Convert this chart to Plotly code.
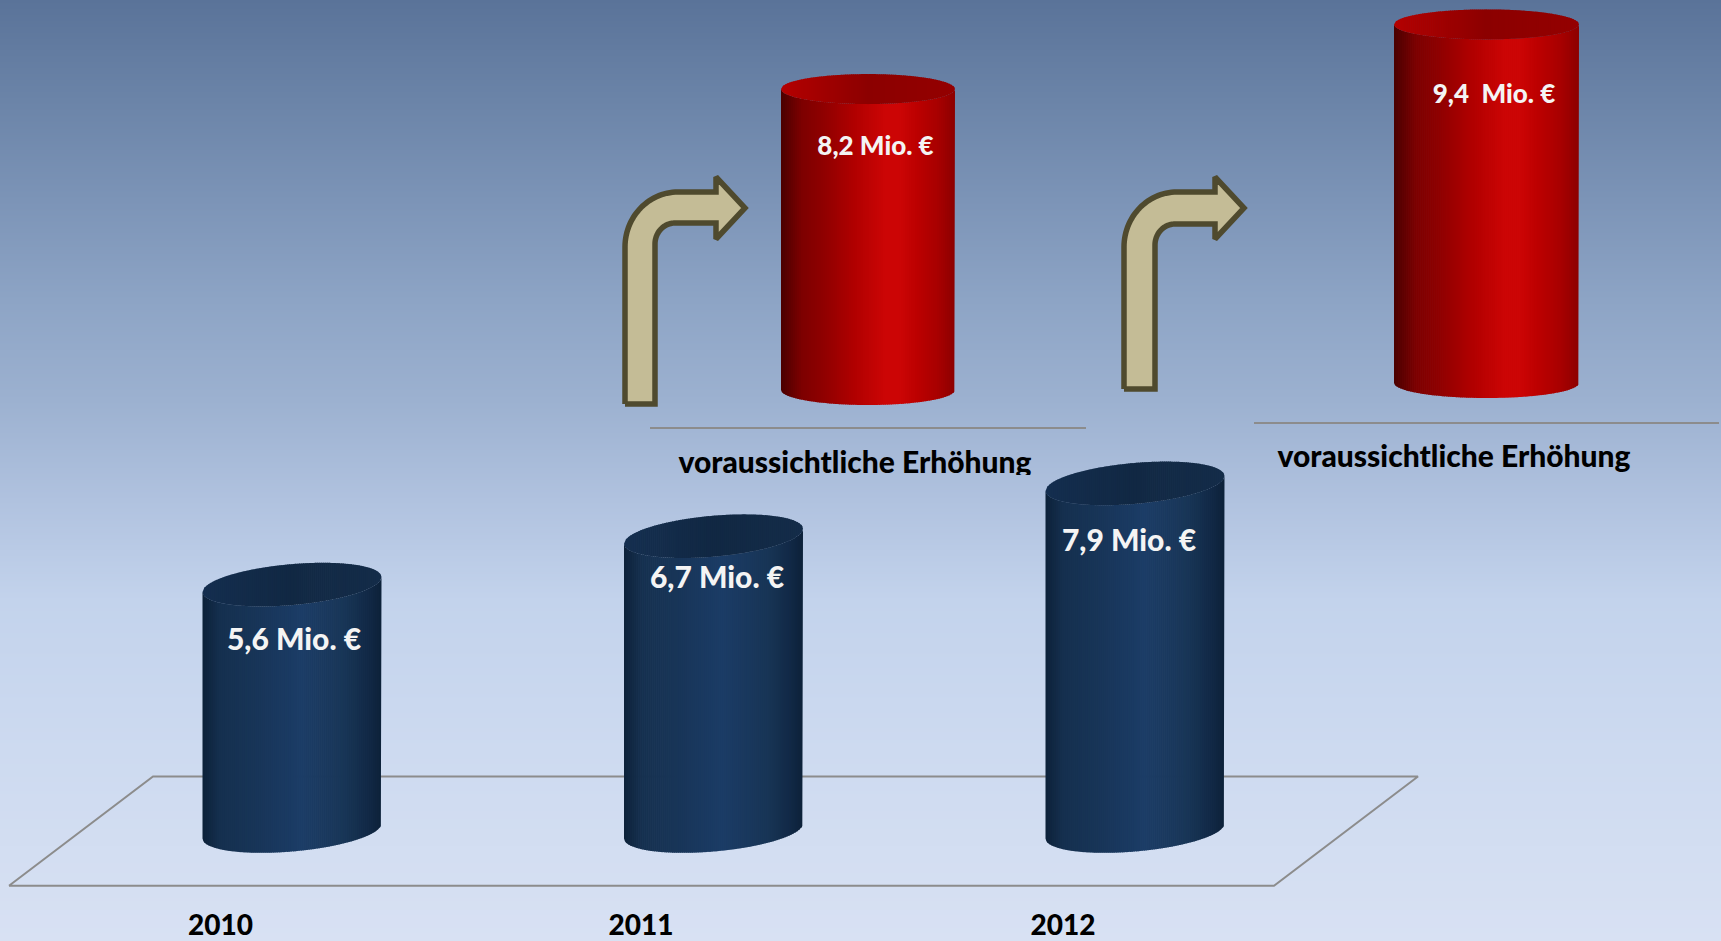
import math
import plotly.graph_objects as go

# ---------- data ----------
YEARS = ["2010", "2011", "2012"]
ACTUAL_VALUES = [5.6, 6.7, 7.9]
ACTUAL_LABELS = ["5,6 Mio. €", "6,7 Mio. €", "7,9 Mio. €"]
FORECAST_VALUES = [8.2, 9.4]
FORECAST_LABELS = ["8,2 Mio. €", "9,4  Mio. €"]
FORECAST_NOTE = "voraussichtliche Erhöhung"

W, H = 1721, 941

# ---------- style / layout (pixels) ----------
BG_STOPS = [(0, "#5a7399"), (100, "#6b84a8"), (200, "#7c94b7"), (300, "#8da4c5"),
            (400, "#9cb1d0"), (500, "#b0c2df"), (600, "#c3d3ec"), (750, "#cddaf0"),
            (941, "#d8e1f3")]
BLUE_BODY = [(0, "#0d2139"), (.1, "#15304f"), (.3, "#183558"), (.55, "#1b3c66"),
             (.8, "#183556"), (.92, "#122a47"), (1, "#0d2139")]
BLUE_TOP = [(0, "#142e4f"), (.5, "#112843"), (1, "#142c49")]
RED_BODY = [(0, "#4a0000"), (.12, "#7d0000"), (.25, "#900000"), (.42, "#b00000"),
            (.6, "#cc0505"), (.68, "#cc0505"), (.78, "#bc0000"), (.9, "#a80000"), (1, "#8c0000")]
RED_TOP = [(0, "#b40000"), (.5, "#8c0000"), (1, "#940000")]

ACTUAL_CX = [292, 713.5, 1135]
ACTUAL_HW = 89.5
ACTUAL_BASE = 831
ACTUAL_SCALE = 44.0
ACTUAL_HY = 20.5
ACTUAL_SKEW = 7.5
FORECAST_CX = [868, 1486.5]
FORECAST_HW = [87, 92.5]
FORECAST_BASE = [390, 383]
FORECAST_SCALE = [36.7, 38.15]
FORECAST_HY = 15

FONT = "Lato"


def hex2rgb(c):
    return tuple(int(c[i:i + 2], 16) for i in (1, 3, 5))


def ramp(stops, t):
    for (a, ca), (b, cb) in zip(stops, stops[1:]):
        if t <= b:
            f = (t - a) / (b - a) if b > a else 0
            ra, rb = hex2rgb(ca), hex2rgb(cb)
            return [ra[i] + (rb[i] - ra[i]) * f for i in range(3)]
    return list(hex2rgb(stops[-1][1]))


def css(rgb):
    return "rgb(%d,%d,%d)" % tuple(round(v) for v in rgb)


fig = go.Figure()

# background gradient as heat map on the pixel axis
rows = list(range(-10, H + 11, 10))
bg_colorscale = [[s[0] / H, s[1]] for s in BG_STOPS]
fig.add_trace(go.Heatmap(x=[-10, W + 10], y=rows, z=[[max(0, min(H, r))] * 2 for r in rows],
                         zmin=0, zmax=H, colorscale=bg_colorscale, showscale=False,
                         zsmooth="best", hoverinfo="skip"))

GRAY = "#8c8c8c"
fig.add_trace(go.Scatter(x=[9, 153, 1418, 1274, 9], y=[885.7, 776.5, 776.5, 885.7, 885.7],
                         mode="lines", line=dict(color=GRAY, width=2), hoverinfo="skip"))
fig.add_trace(go.Scatter(x=[650, 1086], y=[428, 428], mode="lines",
                         line=dict(color=GRAY, width=2), hoverinfo="skip"))
fig.add_trace(go.Scatter(x=[1254, 1719], y=[423, 423], mode="lines",
                         line=dict(color=GRAY, width=2), hoverinfo="skip"))


def cylinder(value, cx, hw, scale, hy, skew, body, top, yaxis):
    """Shaded cylinder as vertical strips; its height comes from the value on its own y axis."""
    n = int(hw)

    def strip(i):
        u0 = -1 + 2 * i / n
        u1 = -1 + 2 * (i + 1) / n
        u1 = min(1, u1 + (0.7 / hw if i < n - 1 else 0))
        us = [u0 + (u1 - u0) * k / 3 for k in range(4)]
        return us, [cx + hw * u for u in us]

    def off(u, sign):
        return (skew * u + sign * hy * math.sqrt(max(0, 1 - u * u))) / scale

    for i in range(n):
        us, xs = strip(i)
        upper = [value + off(u, -1) for u in us]
        lower = [off(u, -1) for u in us]
        col = css(ramp(body, (i + .5) / n))
        fig.add_trace(go.Scatter(x=xs + xs[::-1] + [xs[0]], y=upper + lower[::-1] + [upper[0]],
                                 mode="lines", fill="toself", fillcolor=col,
                                 line=dict(width=0, color=col), yaxis=yaxis, hoverinfo="skip"))
    for i in range(n):
        us, xs = strip(i)
        hi = [value + off(u, 1) for u in us]
        lo = [value + off(u, -1) for u in us]
        col = css(ramp(top, (i + .5) / n))
        fig.add_trace(go.Scatter(x=xs + xs[::-1] + [xs[0]], y=hi + lo[::-1] + [hi[0]],
                                 mode="lines", fill="toself", fillcolor=col,
                                 line=dict(width=0, color=col), yaxis=yaxis, hoverinfo="skip"))


for v, cx in zip(ACTUAL_VALUES, ACTUAL_CX):
    cylinder(v, cx, ACTUAL_HW, ACTUAL_SCALE, ACTUAL_HY, ACTUAL_SKEW, BLUE_BODY, BLUE_TOP, "y2")
for k, (v, cx) in enumerate(zip(FORECAST_VALUES, FORECAST_CX)):
    cylinder(v, cx, FORECAST_HW[k], FORECAST_SCALE[k], FORECAST_HY, 0, RED_BODY, RED_TOP, "y%d" % (3 + k))


def bent_arrow(left, shaft_r, bottom, top_o, top_i, head_x, head_t, head_b, tip_x, tip_y, ro=(53, 55), ri=(20, 21)):
    xs, ys = [left], [bottom]
    for k in range(31):
        a = math.pi / 2 * k / 30
        xs.append(left + ro[0] - ro[0] * math.cos(a))
        ys.append(top_o + ro[1] - ro[1] * math.sin(a))
    xs += [head_x, head_x, tip_x, head_x, head_x]
    ys += [top_o, head_t, tip_y, head_b, top_i]
    for k in range(31):
        a = math.pi / 2 * k / 30
        xs.append(shaft_r + ri[0] - ri[0] * math.sin(a))
        ys.append(top_i + ri[1] - ri[1] * math.cos(a))
    xs += [shaft_r, left]
    ys += [bottom, bottom]
    fig.add_trace(go.Scatter(x=xs, y=ys, mode="lines", fill="toself", fillcolor="#c4bc96",
                             line=dict(color="#4f4a2e", width=5.5, simplify=False), hoverinfo="skip"))


bent_arrow(625, 655, 404, 192, 223, 716, 177, 239, 745, 208)
bent_arrow(1124, 1155, 389, 192, 224, 1215, 177, 239, 1244, 208)


def label(text, x, y, size, color, yaxis="y5"):
    fig.add_trace(go.Scatter(x=[x], y=[y], mode="text", text=[text], textposition="middle center",
                             textfont=dict(family=FONT, size=size, color=color, weight=900),
                             yaxis=yaxis, hoverinfo="skip", cliponaxis=True))


WHITE = "#f4f4f4"
for t, x, y in zip(ACTUAL_LABELS, [294, 717, 1129], [642, 580, 543]):
    label(t, x, y, 30, WHITE)
for t, x, y in zip(FORECAST_LABELS, [875.5, 1494], [148, 96]):
    label(t, x, y, 26, WHITE)
for t, x in zip(YEARS, [220.5, 641, 1063]):
    label(t, x, 927.5, 28, "#000000")
label(FORECAST_NOTE, 1454, 459, 30, "#000000")
label(FORECAST_NOTE, 855, 465, 30, "#000000", yaxis="y6")  # clipped at its lower edge

hidden = dict(visible=False, showgrid=False, zeroline=False, fixedrange=True)
CLIP_Y = 475
fig.update_layout(
    width=W, height=H, autosize=False, showlegend=False,
    margin=dict(l=0, r=0, t=0, b=0, pad=0),
    paper_bgcolor="#c3d3ec", plot_bgcolor="rgba(0,0,0,0)",
    xaxis=dict(range=[0, W], domain=[0, 1], **hidden),
    yaxis=dict(range=[H, 0], domain=[0, 1], **hidden),
    yaxis2=dict(range=[(ACTUAL_BASE - H) / ACTUAL_SCALE, ACTUAL_BASE / ACTUAL_SCALE],
                overlaying="y", **hidden),
    yaxis3=dict(range=[(FORECAST_BASE[0] - H) / FORECAST_SCALE[0], FORECAST_BASE[0] / FORECAST_SCALE[0]],
                overlaying="y", **hidden),
    yaxis4=dict(range=[(FORECAST_BASE[1] - H) / FORECAST_SCALE[1], FORECAST_BASE[1] / FORECAST_SCALE[1]],
                overlaying="y", **hidden),
    yaxis5=dict(range=[H, 0], overlaying="y", **hidden),
    yaxis6=dict(range=[CLIP_Y, 0], domain=[1 - CLIP_Y / H, 1], anchor="x", **hidden),
)

fig.write_html("out.html", config=dict(displayModeBar=False),
               post_script="document.body.style.margin='0';document.documentElement.style.overflow='hidden';")
